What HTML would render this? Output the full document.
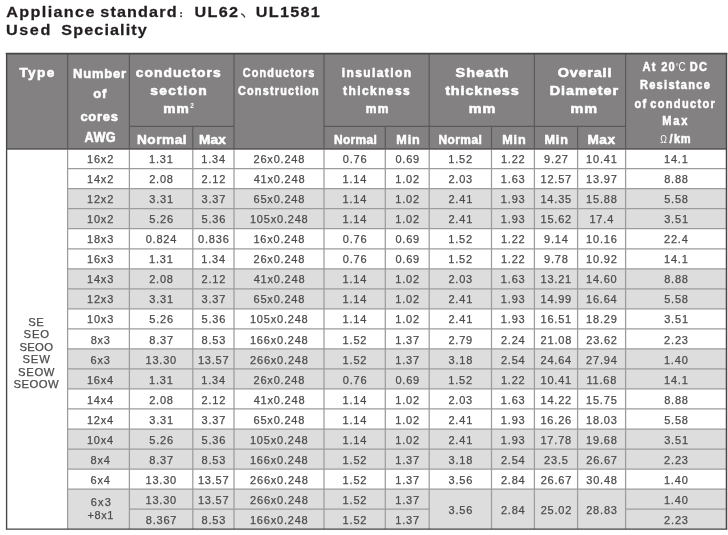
<!DOCTYPE html>
<html><head><meta charset="utf-8"><title>Appliance standard</title>
<style>html,body{margin:0;padding:0;background:#fff;}body{width:728px;height:535px;overflow:hidden;}svg{display:block;will-change:transform;}text{font-family:"Liberation Sans",sans-serif;white-space:pre;}.b{font-weight:bold;}</style>
</head><body>
<svg width="728" height="535" viewBox="0 0 728 535">
<rect x="0" y="0" width="728" height="535" fill="#fff"/>
<rect x="6.6" y="53.6" width="719.9" height="95.0" fill="#838182"/>
<rect x="67.6" y="188.66" width="658.9" height="40.06" fill="#dddddd"/>
<rect x="67.6" y="268.78" width="658.9" height="40.06" fill="#dddddd"/>
<rect x="67.6" y="348.90" width="658.9" height="40.06" fill="#dddddd"/>
<rect x="67.6" y="429.02" width="658.9" height="40.06" fill="#dddddd"/>
<rect x="67.6" y="489.11" width="658.9" height="40.06" fill="#dddddd"/>
<line x1="67.60" y1="168.63" x2="726.50" y2="168.63" stroke="#9c9c9c" stroke-width="1.25"/>
<line x1="67.60" y1="188.66" x2="726.50" y2="188.66" stroke="#9c9c9c" stroke-width="1.25"/>
<line x1="67.60" y1="208.69" x2="726.50" y2="208.69" stroke="#9c9c9c" stroke-width="1.25"/>
<line x1="67.60" y1="228.72" x2="726.50" y2="228.72" stroke="#9c9c9c" stroke-width="1.25"/>
<line x1="67.60" y1="248.75" x2="726.50" y2="248.75" stroke="#9c9c9c" stroke-width="1.25"/>
<line x1="67.60" y1="268.78" x2="726.50" y2="268.78" stroke="#9c9c9c" stroke-width="1.25"/>
<line x1="67.60" y1="288.81" x2="726.50" y2="288.81" stroke="#9c9c9c" stroke-width="1.25"/>
<line x1="67.60" y1="308.84" x2="726.50" y2="308.84" stroke="#9c9c9c" stroke-width="1.25"/>
<line x1="67.60" y1="328.87" x2="726.50" y2="328.87" stroke="#9c9c9c" stroke-width="1.25"/>
<line x1="67.60" y1="348.90" x2="726.50" y2="348.90" stroke="#9c9c9c" stroke-width="1.25"/>
<line x1="67.60" y1="368.93" x2="726.50" y2="368.93" stroke="#9c9c9c" stroke-width="1.25"/>
<line x1="67.60" y1="388.96" x2="726.50" y2="388.96" stroke="#9c9c9c" stroke-width="1.25"/>
<line x1="67.60" y1="408.99" x2="726.50" y2="408.99" stroke="#9c9c9c" stroke-width="1.25"/>
<line x1="67.60" y1="429.02" x2="726.50" y2="429.02" stroke="#9c9c9c" stroke-width="1.25"/>
<line x1="67.60" y1="449.05" x2="726.50" y2="449.05" stroke="#9c9c9c" stroke-width="1.25"/>
<line x1="67.60" y1="469.08" x2="726.50" y2="469.08" stroke="#9c9c9c" stroke-width="1.25"/>
<line x1="67.60" y1="489.11" x2="726.50" y2="489.11" stroke="#9c9c9c" stroke-width="1.25"/>
<line x1="129.40" y1="509.14" x2="429.20" y2="509.14" stroke="#9c9c9c" stroke-width="1.25"/>
<line x1="625.60" y1="509.14" x2="726.50" y2="509.14" stroke="#9c9c9c" stroke-width="1.25"/>
<line x1="67.60" y1="148.60" x2="67.60" y2="529.17" stroke="#9c9c9c" stroke-width="1.25"/>
<line x1="129.40" y1="148.60" x2="129.40" y2="529.17" stroke="#9c9c9c" stroke-width="1.25"/>
<line x1="192.80" y1="148.60" x2="192.80" y2="529.17" stroke="#9c9c9c" stroke-width="1.25"/>
<line x1="234.00" y1="148.60" x2="234.00" y2="529.17" stroke="#9c9c9c" stroke-width="1.25"/>
<line x1="324.00" y1="148.60" x2="324.00" y2="529.17" stroke="#9c9c9c" stroke-width="1.25"/>
<line x1="385.30" y1="148.60" x2="385.30" y2="529.17" stroke="#9c9c9c" stroke-width="1.25"/>
<line x1="429.20" y1="148.60" x2="429.20" y2="529.17" stroke="#9c9c9c" stroke-width="1.25"/>
<line x1="491.50" y1="148.60" x2="491.50" y2="529.17" stroke="#9c9c9c" stroke-width="1.25"/>
<line x1="534.40" y1="148.60" x2="534.40" y2="529.17" stroke="#9c9c9c" stroke-width="1.25"/>
<line x1="577.60" y1="148.60" x2="577.60" y2="529.17" stroke="#9c9c9c" stroke-width="1.25"/>
<line x1="625.60" y1="148.60" x2="625.60" y2="529.17" stroke="#9c9c9c" stroke-width="1.25"/>
<line x1="67.60" y1="53.60" x2="67.60" y2="148.60" stroke="#5c5a5b" stroke-width="1.2"/>
<line x1="129.40" y1="53.60" x2="129.40" y2="148.60" stroke="#5c5a5b" stroke-width="1.2"/>
<line x1="234.00" y1="53.60" x2="234.00" y2="148.60" stroke="#5c5a5b" stroke-width="1.2"/>
<line x1="324.00" y1="53.60" x2="324.00" y2="148.60" stroke="#5c5a5b" stroke-width="1.2"/>
<line x1="429.20" y1="53.60" x2="429.20" y2="148.60" stroke="#5c5a5b" stroke-width="1.2"/>
<line x1="534.40" y1="53.60" x2="534.40" y2="148.60" stroke="#5c5a5b" stroke-width="1.2"/>
<line x1="625.60" y1="53.60" x2="625.60" y2="148.60" stroke="#5c5a5b" stroke-width="1.2"/>
<line x1="192.80" y1="126.40" x2="192.80" y2="148.60" stroke="#5c5a5b" stroke-width="1.2"/>
<line x1="385.30" y1="126.40" x2="385.30" y2="148.60" stroke="#5c5a5b" stroke-width="1.2"/>
<line x1="491.50" y1="126.40" x2="491.50" y2="148.60" stroke="#5c5a5b" stroke-width="1.2"/>
<line x1="577.60" y1="126.40" x2="577.60" y2="148.60" stroke="#5c5a5b" stroke-width="1.2"/>
<line x1="129.40" y1="126.40" x2="234.00" y2="126.40" stroke="#5c5a5b" stroke-width="1.2"/>
<line x1="324.00" y1="126.40" x2="429.20" y2="126.40" stroke="#5c5a5b" stroke-width="1.2"/>
<line x1="429.20" y1="126.40" x2="534.40" y2="126.40" stroke="#5c5a5b" stroke-width="1.2"/>
<line x1="534.40" y1="126.40" x2="625.60" y2="126.40" stroke="#5c5a5b" stroke-width="1.2"/>
<line x1="6.60" y1="148.80" x2="726.50" y2="148.80" stroke="#5e5c5d" stroke-width="1.7"/>
<line x1="5.75" y1="53.60" x2="727.35" y2="53.60" stroke="#474546" stroke-width="1.7"/>
<line x1="5.90" y1="529.17" x2="727.20" y2="529.17" stroke="#474546" stroke-width="1.4"/>
<line x1="6.60" y1="53.60" x2="6.60" y2="529.17" stroke="#474546" stroke-width="1.35"/>
<line x1="726.50" y1="53.60" x2="726.50" y2="529.17" stroke="#474546" stroke-width="1.5"/>
<text class="b" transform="translate(6.33,16.90) scale(1.06,1)" font-size="15.3" letter-spacing="1.260" fill="#231f20" stroke="#231f20" stroke-width="0.25" stroke-linejoin="round">Appliance</text>
<text class="b" transform="translate(100.26,16.90) scale(1.06,1)" font-size="15.3" letter-spacing="1.061" fill="#231f20" stroke="#231f20" stroke-width="0.25" stroke-linejoin="round">standard</text>
<circle cx="181.1" cy="13.0" r="0.95" fill="#3a3637"/><circle cx="181.1" cy="16.3" r="0.95" fill="#3a3637"/>
<text class="b" transform="translate(194.56,16.90) scale(1.06,1)" font-size="15.3" letter-spacing="1.228" fill="#231f20" stroke="#231f20" stroke-width="0.25" stroke-linejoin="round">UL62</text>
<path d="M241.6 13.9 Q243.8 15 244.7 17.1" stroke="#3a3637" stroke-width="1.25" stroke-linecap="round" fill="none"/>
<text class="b" transform="translate(255.66,16.90) scale(1.06,1)" font-size="15.3" letter-spacing="1.237" fill="#231f20" stroke="#231f20" stroke-width="0.25" stroke-linejoin="round">UL1581</text>
<text class="b" transform="translate(6.06,35.20) scale(1.06,1)" font-size="15.3" letter-spacing="1.449" fill="#231f20" stroke="#231f20" stroke-width="0.25" stroke-linejoin="round">Used</text>
<text class="b" transform="translate(61.25,35.20) scale(1.06,1)" font-size="15.3" letter-spacing="1.038" fill="#231f20" stroke="#231f20" stroke-width="0.25" stroke-linejoin="round">Speciality</text>
<text class="b" transform="translate(19.43,76.80) scale(1.08,1)" font-size="12.6" letter-spacing="1.265" fill="#fff" stroke="#fff" stroke-width="0.55" stroke-linejoin="round">Type</text>
<text class="b" x="73.00" y="78.00" font-size="13.0" letter-spacing="0.797" fill="#fff" stroke="#fff" stroke-width="0.55" stroke-linejoin="round">Number</text>
<text class="b" x="93.20" y="98.40" font-size="13.0" letter-spacing="0.797" fill="#fff" stroke="#fff" stroke-width="0.55" stroke-linejoin="round">of</text>
<text class="b" x="80.45" y="121.00" font-size="13.0" letter-spacing="0.703" fill="#fff" stroke="#fff" stroke-width="0.55" stroke-linejoin="round">cores</text>
<text class="b" transform="translate(84.54,142.00) scale(0.92,1)" font-size="13.8" letter-spacing="0.485" fill="#fff" stroke="#fff" stroke-width="0.55" stroke-linejoin="round">AWG</text>
<text class="b" transform="translate(135.66,76.60) scale(1.15,1)" font-size="12.0" letter-spacing="0.969" fill="#fff" stroke="#fff" stroke-width="0.55" stroke-linejoin="round">conductors</text>
<text class="b" transform="translate(150.23,94.60) scale(1.15,1)" font-size="12.0" letter-spacing="1.200" fill="#fff" stroke="#fff" stroke-width="0.55" stroke-linejoin="round">section</text>
<text class="b" transform="translate(163.14,113.20) scale(1.15,1)" font-size="12.0" letter-spacing="0.969" fill="#fff" stroke="#fff" stroke-width="0.55" stroke-linejoin="round">mm</text>
<text class="b" x="190.3" y="108" font-size="6.5" fill="#fff">2</text>
<text class="b" transform="translate(136.98,143.90) scale(1.08,1)" font-size="12.6" letter-spacing="0.518" fill="#fff" stroke="#fff" stroke-width="0.55" stroke-linejoin="round">Normal</text>
<text class="b" transform="translate(198.88,143.90) scale(1.08,1)" font-size="12.6" letter-spacing="0.213" fill="#fff" stroke="#fff" stroke-width="0.55" stroke-linejoin="round">Max</text>
<text class="b" transform="translate(242.70,76.60) scale(0.85,1)" font-size="12.8" letter-spacing="1.394" fill="#fff" stroke="#fff" stroke-width="0.55" stroke-linejoin="round">Conductors</text>
<text class="b" transform="translate(238.00,95.00) scale(0.85,1)" font-size="12.8" letter-spacing="1.406" fill="#fff" stroke="#fff" stroke-width="0.55" stroke-linejoin="round">Construction</text>
<text class="b" x="341.63" y="76.60" font-size="12.0" letter-spacing="1.427" fill="#fff" stroke="#fff" stroke-width="0.55" stroke-linejoin="round">insulation</text>
<text class="b" x="343.12" y="94.60" font-size="12.0" letter-spacing="1.404" fill="#fff" stroke="#fff" stroke-width="0.55" stroke-linejoin="round">thickness</text>
<text class="b" x="365.75" y="113.20" font-size="12.0" letter-spacing="1.404" fill="#fff" stroke="#fff" stroke-width="0.55" stroke-linejoin="round">mm</text>
<text class="b" transform="translate(334.05,143.90) scale(0.95,1)" font-size="12.6" letter-spacing="0.313" fill="#fff" stroke="#fff" stroke-width="0.55" stroke-linejoin="round">Normal</text>
<text class="b" x="396.32" y="143.90" font-size="12.6" letter-spacing="0.892" fill="#fff" stroke="#fff" stroke-width="0.55" stroke-linejoin="round">Min</text>
<text class="b" transform="translate(455.60,76.60) scale(1.2,1)" font-size="12.0" letter-spacing="0.825" fill="#fff" stroke="#fff" stroke-width="0.55" stroke-linejoin="round">Sheath</text>
<text class="b" transform="translate(445.15,94.60) scale(1.2,1)" font-size="12.0" letter-spacing="0.748" fill="#fff" stroke="#fff" stroke-width="0.55" stroke-linejoin="round">thickness</text>
<text class="b" transform="translate(468.87,113.20) scale(1.2,1)" font-size="12.0" letter-spacing="0.748" fill="#fff" stroke="#fff" stroke-width="0.55" stroke-linejoin="round">mm</text>
<text class="b" transform="translate(438.45,143.90) scale(0.95,1)" font-size="12.6" letter-spacing="0.460" fill="#fff" stroke="#fff" stroke-width="0.55" stroke-linejoin="round">Normal</text>
<text class="b" x="502.22" y="143.90" font-size="12.6" letter-spacing="0.892" fill="#fff" stroke="#fff" stroke-width="0.55" stroke-linejoin="round">Min</text>
<text class="b" transform="translate(557.65,76.60) scale(1.2,1)" font-size="12.0" letter-spacing="0.682" fill="#fff" stroke="#fff" stroke-width="0.55" stroke-linejoin="round">Overall</text>
<text class="b" transform="translate(549.66,94.60) scale(1.2,1)" font-size="12.0" letter-spacing="0.821" fill="#fff" stroke="#fff" stroke-width="0.55" stroke-linejoin="round">Diameter</text>
<text class="b" transform="translate(570.47,113.20) scale(1.2,1)" font-size="12.0" letter-spacing="0.821" fill="#fff" stroke="#fff" stroke-width="0.55" stroke-linejoin="round">mm</text>
<text class="b" x="544.42" y="143.90" font-size="12.6" letter-spacing="0.942" fill="#fff" stroke="#fff" stroke-width="0.55" stroke-linejoin="round">Min</text>
<text class="b" transform="translate(587.38,143.90) scale(1.08,1)" font-size="12.6" letter-spacing="0.583" fill="#fff" stroke="#fff" stroke-width="0.55" stroke-linejoin="round">Max</text>
<text class="b" transform="translate(639.89,89.40) scale(0.85,1)" font-size="13.0" letter-spacing="1.529" fill="#fff" stroke="#fff" stroke-width="0.55" stroke-linejoin="round">Resistance</text>
<text class="b" transform="translate(642.50,71.00) scale(0.85,1)" font-size="13.0" letter-spacing="1.529" fill="#fff" stroke="#fff" stroke-width="0.55" stroke-linejoin="round">At</text>
<text class="b" transform="translate(661.15,71.00) scale(0.85,1)" font-size="13.0" letter-spacing="1.529" fill="#fff" stroke="#fff" stroke-width="0.55" stroke-linejoin="round">20</text>
<text x="675.6" y="68.6" font-size="8" fill="#fff">°</text>
<text transform="translate(678.6,71.0) scale(0.8,1)" font-size="12.6" fill="#fff">C</text>
<text class="b" transform="translate(689.80,71.00) scale(0.85,1)" font-size="13.0" letter-spacing="1.529" fill="#fff" stroke="#fff" stroke-width="0.55" stroke-linejoin="round">DC</text>
<text class="b" transform="translate(634.51,107.50) scale(0.85,1)" font-size="13.0" letter-spacing="1.529" fill="#fff" stroke="#fff" stroke-width="0.55" stroke-linejoin="round">of</text>
<text class="b" transform="translate(650.29,107.50) scale(0.85,1)" font-size="13.0" letter-spacing="1.545" fill="#fff" stroke="#fff" stroke-width="0.55" stroke-linejoin="round">conductor</text>
<text class="b" transform="translate(662.29,125.30) scale(0.85,1)" font-size="13.0" letter-spacing="2.158" fill="#fff" stroke="#fff" stroke-width="0.55" stroke-linejoin="round">Max</text>
<text transform="translate(660.3,143.2) scale(0.85,1)" font-size="10.5" fill="#fff">Ω</text>
<text class="b" transform="translate(669.47,143.20) scale(0.85,1)" font-size="13.0" letter-spacing="0.000" fill="#fff" stroke="#fff" stroke-width="0.55" stroke-linejoin="round">/</text>
<text class="b" transform="translate(674.03,143.20) scale(0.85,1)" font-size="13.0" letter-spacing="0.800" fill="#fff" stroke="#fff" stroke-width="0.55" stroke-linejoin="round">km</text>
<text x="28.24" y="325.70" font-size="11.3" letter-spacing="0.600" fill="#4c4c4c" stroke="#4c4c4c" stroke-width="0.25" stroke-linejoin="round">SE</text>
<text x="23.62" y="338.10" font-size="11.3" letter-spacing="0.812" fill="#4c4c4c" stroke="#4c4c4c" stroke-width="0.25" stroke-linejoin="round">SEO</text>
<text x="19.42" y="350.70" font-size="11.3" letter-spacing="0.313" fill="#4c4c4c" stroke="#4c4c4c" stroke-width="0.25" stroke-linejoin="round">SEOO</text>
<text x="22.62" y="363.00" font-size="11.3" letter-spacing="0.726" fill="#4c4c4c" stroke="#4c4c4c" stroke-width="0.25" stroke-linejoin="round">SEW</text>
<text x="18.12" y="375.60" font-size="11.3" letter-spacing="0.622" fill="#4c4c4c" stroke="#4c4c4c" stroke-width="0.25" stroke-linejoin="round">SEOW</text>
<text x="13.52" y="388.20" font-size="11.3" letter-spacing="0.470" fill="#4c4c4c" stroke="#4c4c4c" stroke-width="0.25" stroke-linejoin="round">SEOOW</text>
<text x="87.04" y="163.25" font-size="11" letter-spacing="0.800" fill="#4c4c4c" stroke="#4c4c4c" stroke-width="0.25" stroke-linejoin="round">16x2</text>
<text x="149.05" y="163.25" font-size="11" letter-spacing="0.800" fill="#4c4c4c" stroke="#4c4c4c" stroke-width="0.25" stroke-linejoin="round">1.31</text>
<text x="201.24" y="163.25" font-size="11" letter-spacing="0.800" fill="#4c4c4c" stroke="#4c4c4c" stroke-width="0.25" stroke-linejoin="round">1.34</text>
<text x="253.54" y="163.25" font-size="11" letter-spacing="0.800" fill="#4c4c4c" stroke="#4c4c4c" stroke-width="0.25" stroke-linejoin="round">26x0.248</text>
<text x="342.77" y="163.25" font-size="11" letter-spacing="0.800" fill="#4c4c4c" stroke="#4c4c4c" stroke-width="0.25" stroke-linejoin="round">0.76</text>
<text x="395.38" y="163.25" font-size="11" letter-spacing="0.800" fill="#4c4c4c" stroke="#4c4c4c" stroke-width="0.25" stroke-linejoin="round">0.69</text>
<text x="448.32" y="163.25" font-size="11" letter-spacing="0.800" fill="#4c4c4c" stroke="#4c4c4c" stroke-width="0.25" stroke-linejoin="round">1.52</text>
<text x="500.92" y="163.25" font-size="11" letter-spacing="0.800" fill="#4c4c4c" stroke="#4c4c4c" stroke-width="0.25" stroke-linejoin="round">1.22</text>
<text x="544.12" y="163.25" font-size="11" letter-spacing="0.800" fill="#4c4c4c" stroke="#4c4c4c" stroke-width="0.25" stroke-linejoin="round">9.27</text>
<text x="586.08" y="163.25" font-size="11" letter-spacing="0.800" fill="#4c4c4c" stroke="#4c4c4c" stroke-width="0.25" stroke-linejoin="round">10.41</text>
<text x="664.00" y="163.25" font-size="11" letter-spacing="0.800" fill="#4c4c4c" stroke="#4c4c4c" stroke-width="0.25" stroke-linejoin="round">14.1</text>
<text x="87.04" y="183.28" font-size="11" letter-spacing="0.800" fill="#4c4c4c" stroke="#4c4c4c" stroke-width="0.25" stroke-linejoin="round">14x2</text>
<text x="149.16" y="183.28" font-size="11" letter-spacing="0.800" fill="#4c4c4c" stroke="#4c4c4c" stroke-width="0.25" stroke-linejoin="round">2.08</text>
<text x="201.50" y="183.28" font-size="11" letter-spacing="0.800" fill="#4c4c4c" stroke="#4c4c4c" stroke-width="0.25" stroke-linejoin="round">2.12</text>
<text x="253.69" y="183.28" font-size="11" letter-spacing="0.800" fill="#4c4c4c" stroke="#4c4c4c" stroke-width="0.25" stroke-linejoin="round">41x0.248</text>
<text x="342.49" y="183.28" font-size="11" letter-spacing="0.800" fill="#4c4c4c" stroke="#4c4c4c" stroke-width="0.25" stroke-linejoin="round">1.14</text>
<text x="395.22" y="183.28" font-size="11" letter-spacing="0.800" fill="#4c4c4c" stroke="#4c4c4c" stroke-width="0.25" stroke-linejoin="round">1.02</text>
<text x="448.41" y="183.28" font-size="11" letter-spacing="0.800" fill="#4c4c4c" stroke="#4c4c4c" stroke-width="0.25" stroke-linejoin="round">2.03</text>
<text x="500.87" y="183.28" font-size="11" letter-spacing="0.800" fill="#4c4c4c" stroke="#4c4c4c" stroke-width="0.25" stroke-linejoin="round">1.63</text>
<text x="540.50" y="183.28" font-size="11" letter-spacing="0.800" fill="#4c4c4c" stroke="#4c4c4c" stroke-width="0.25" stroke-linejoin="round">12.57</text>
<text x="586.10" y="183.28" font-size="11" letter-spacing="0.800" fill="#4c4c4c" stroke="#4c4c4c" stroke-width="0.25" stroke-linejoin="round">13.97</text>
<text x="664.15" y="183.28" font-size="11" letter-spacing="0.800" fill="#4c4c4c" stroke="#4c4c4c" stroke-width="0.25" stroke-linejoin="round">8.88</text>
<text x="87.04" y="203.31" font-size="11" letter-spacing="0.800" fill="#4c4c4c" stroke="#4c4c4c" stroke-width="0.25" stroke-linejoin="round">12x2</text>
<text x="149.26" y="203.31" font-size="11" letter-spacing="0.800" fill="#4c4c4c" stroke="#4c4c4c" stroke-width="0.25" stroke-linejoin="round">3.31</text>
<text x="201.57" y="203.31" font-size="11" letter-spacing="0.800" fill="#4c4c4c" stroke="#4c4c4c" stroke-width="0.25" stroke-linejoin="round">3.37</text>
<text x="253.54" y="203.31" font-size="11" letter-spacing="0.800" fill="#4c4c4c" stroke="#4c4c4c" stroke-width="0.25" stroke-linejoin="round">65x0.248</text>
<text x="342.49" y="203.31" font-size="11" letter-spacing="0.800" fill="#4c4c4c" stroke="#4c4c4c" stroke-width="0.25" stroke-linejoin="round">1.14</text>
<text x="395.22" y="203.31" font-size="11" letter-spacing="0.800" fill="#4c4c4c" stroke="#4c4c4c" stroke-width="0.25" stroke-linejoin="round">1.02</text>
<text x="448.44" y="203.31" font-size="11" letter-spacing="0.800" fill="#4c4c4c" stroke="#4c4c4c" stroke-width="0.25" stroke-linejoin="round">2.41</text>
<text x="500.87" y="203.31" font-size="11" letter-spacing="0.800" fill="#4c4c4c" stroke="#4c4c4c" stroke-width="0.25" stroke-linejoin="round">1.93</text>
<text x="540.44" y="203.31" font-size="11" letter-spacing="0.800" fill="#4c4c4c" stroke="#4c4c4c" stroke-width="0.25" stroke-linejoin="round">14.35</text>
<text x="586.06" y="203.31" font-size="11" letter-spacing="0.800" fill="#4c4c4c" stroke="#4c4c4c" stroke-width="0.25" stroke-linejoin="round">15.88</text>
<text x="664.17" y="203.31" font-size="11" letter-spacing="0.800" fill="#4c4c4c" stroke="#4c4c4c" stroke-width="0.25" stroke-linejoin="round">5.58</text>
<text x="87.04" y="223.34" font-size="11" letter-spacing="0.800" fill="#4c4c4c" stroke="#4c4c4c" stroke-width="0.25" stroke-linejoin="round">10x2</text>
<text x="149.22" y="223.34" font-size="11" letter-spacing="0.800" fill="#4c4c4c" stroke="#4c4c4c" stroke-width="0.25" stroke-linejoin="round">5.26</text>
<text x="201.52" y="223.34" font-size="11" letter-spacing="0.800" fill="#4c4c4c" stroke="#4c4c4c" stroke-width="0.25" stroke-linejoin="round">5.36</text>
<text x="249.94" y="223.34" font-size="11" letter-spacing="0.800" fill="#4c4c4c" stroke="#4c4c4c" stroke-width="0.25" stroke-linejoin="round">105x0.248</text>
<text x="342.49" y="223.34" font-size="11" letter-spacing="0.800" fill="#4c4c4c" stroke="#4c4c4c" stroke-width="0.25" stroke-linejoin="round">1.14</text>
<text x="395.22" y="223.34" font-size="11" letter-spacing="0.800" fill="#4c4c4c" stroke="#4c4c4c" stroke-width="0.25" stroke-linejoin="round">1.02</text>
<text x="448.44" y="223.34" font-size="11" letter-spacing="0.800" fill="#4c4c4c" stroke="#4c4c4c" stroke-width="0.25" stroke-linejoin="round">2.41</text>
<text x="500.87" y="223.34" font-size="11" letter-spacing="0.800" fill="#4c4c4c" stroke="#4c4c4c" stroke-width="0.25" stroke-linejoin="round">1.93</text>
<text x="540.50" y="223.34" font-size="11" letter-spacing="0.800" fill="#4c4c4c" stroke="#4c4c4c" stroke-width="0.25" stroke-linejoin="round">15.62</text>
<text x="589.44" y="223.34" font-size="11" letter-spacing="0.800" fill="#4c4c4c" stroke="#4c4c4c" stroke-width="0.25" stroke-linejoin="round">17.4</text>
<text x="664.21" y="223.34" font-size="11" letter-spacing="0.800" fill="#4c4c4c" stroke="#4c4c4c" stroke-width="0.25" stroke-linejoin="round">3.51</text>
<text x="87.00" y="243.37" font-size="11" letter-spacing="0.800" fill="#4c4c4c" stroke="#4c4c4c" stroke-width="0.25" stroke-linejoin="round">18x3</text>
<text x="145.67" y="243.37" font-size="11" letter-spacing="0.800" fill="#4c4c4c" stroke="#4c4c4c" stroke-width="0.25" stroke-linejoin="round">0.824</text>
<text x="198.05" y="243.37" font-size="11" letter-spacing="0.800" fill="#4c4c4c" stroke="#4c4c4c" stroke-width="0.25" stroke-linejoin="round">0.836</text>
<text x="253.40" y="243.37" font-size="11" letter-spacing="0.800" fill="#4c4c4c" stroke="#4c4c4c" stroke-width="0.25" stroke-linejoin="round">16x0.248</text>
<text x="342.77" y="243.37" font-size="11" letter-spacing="0.800" fill="#4c4c4c" stroke="#4c4c4c" stroke-width="0.25" stroke-linejoin="round">0.76</text>
<text x="395.38" y="243.37" font-size="11" letter-spacing="0.800" fill="#4c4c4c" stroke="#4c4c4c" stroke-width="0.25" stroke-linejoin="round">0.69</text>
<text x="448.32" y="243.37" font-size="11" letter-spacing="0.800" fill="#4c4c4c" stroke="#4c4c4c" stroke-width="0.25" stroke-linejoin="round">1.52</text>
<text x="500.92" y="243.37" font-size="11" letter-spacing="0.800" fill="#4c4c4c" stroke="#4c4c4c" stroke-width="0.25" stroke-linejoin="round">1.22</text>
<text x="543.99" y="243.37" font-size="11" letter-spacing="0.800" fill="#4c4c4c" stroke="#4c4c4c" stroke-width="0.25" stroke-linejoin="round">9.14</text>
<text x="586.06" y="243.37" font-size="11" letter-spacing="0.800" fill="#4c4c4c" stroke="#4c4c4c" stroke-width="0.25" stroke-linejoin="round">10.16</text>
<text x="664.03" y="243.37" font-size="11" letter-spacing="0.800" fill="#4c4c4c" stroke="#4c4c4c" stroke-width="0.25" stroke-linejoin="round">22.4</text>
<text x="87.00" y="263.40" font-size="11" letter-spacing="0.800" fill="#4c4c4c" stroke="#4c4c4c" stroke-width="0.25" stroke-linejoin="round">16x3</text>
<text x="149.05" y="263.40" font-size="11" letter-spacing="0.800" fill="#4c4c4c" stroke="#4c4c4c" stroke-width="0.25" stroke-linejoin="round">1.31</text>
<text x="201.24" y="263.40" font-size="11" letter-spacing="0.800" fill="#4c4c4c" stroke="#4c4c4c" stroke-width="0.25" stroke-linejoin="round">1.34</text>
<text x="253.54" y="263.40" font-size="11" letter-spacing="0.800" fill="#4c4c4c" stroke="#4c4c4c" stroke-width="0.25" stroke-linejoin="round">26x0.248</text>
<text x="342.77" y="263.40" font-size="11" letter-spacing="0.800" fill="#4c4c4c" stroke="#4c4c4c" stroke-width="0.25" stroke-linejoin="round">0.76</text>
<text x="395.38" y="263.40" font-size="11" letter-spacing="0.800" fill="#4c4c4c" stroke="#4c4c4c" stroke-width="0.25" stroke-linejoin="round">0.69</text>
<text x="448.32" y="263.40" font-size="11" letter-spacing="0.800" fill="#4c4c4c" stroke="#4c4c4c" stroke-width="0.25" stroke-linejoin="round">1.52</text>
<text x="500.92" y="263.40" font-size="11" letter-spacing="0.800" fill="#4c4c4c" stroke="#4c4c4c" stroke-width="0.25" stroke-linejoin="round">1.22</text>
<text x="544.07" y="263.40" font-size="11" letter-spacing="0.800" fill="#4c4c4c" stroke="#4c4c4c" stroke-width="0.25" stroke-linejoin="round">9.78</text>
<text x="586.10" y="263.40" font-size="11" letter-spacing="0.800" fill="#4c4c4c" stroke="#4c4c4c" stroke-width="0.25" stroke-linejoin="round">10.92</text>
<text x="664.00" y="263.40" font-size="11" letter-spacing="0.800" fill="#4c4c4c" stroke="#4c4c4c" stroke-width="0.25" stroke-linejoin="round">14.1</text>
<text x="87.00" y="283.43" font-size="11" letter-spacing="0.800" fill="#4c4c4c" stroke="#4c4c4c" stroke-width="0.25" stroke-linejoin="round">14x3</text>
<text x="149.16" y="283.43" font-size="11" letter-spacing="0.800" fill="#4c4c4c" stroke="#4c4c4c" stroke-width="0.25" stroke-linejoin="round">2.08</text>
<text x="201.50" y="283.43" font-size="11" letter-spacing="0.800" fill="#4c4c4c" stroke="#4c4c4c" stroke-width="0.25" stroke-linejoin="round">2.12</text>
<text x="253.69" y="283.43" font-size="11" letter-spacing="0.800" fill="#4c4c4c" stroke="#4c4c4c" stroke-width="0.25" stroke-linejoin="round">41x0.248</text>
<text x="342.49" y="283.43" font-size="11" letter-spacing="0.800" fill="#4c4c4c" stroke="#4c4c4c" stroke-width="0.25" stroke-linejoin="round">1.14</text>
<text x="395.22" y="283.43" font-size="11" letter-spacing="0.800" fill="#4c4c4c" stroke="#4c4c4c" stroke-width="0.25" stroke-linejoin="round">1.02</text>
<text x="448.41" y="283.43" font-size="11" letter-spacing="0.800" fill="#4c4c4c" stroke="#4c4c4c" stroke-width="0.25" stroke-linejoin="round">2.03</text>
<text x="500.87" y="283.43" font-size="11" letter-spacing="0.800" fill="#4c4c4c" stroke="#4c4c4c" stroke-width="0.25" stroke-linejoin="round">1.63</text>
<text x="540.48" y="283.43" font-size="11" letter-spacing="0.800" fill="#4c4c4c" stroke="#4c4c4c" stroke-width="0.25" stroke-linejoin="round">13.21</text>
<text x="586.03" y="283.43" font-size="11" letter-spacing="0.800" fill="#4c4c4c" stroke="#4c4c4c" stroke-width="0.25" stroke-linejoin="round">14.60</text>
<text x="664.15" y="283.43" font-size="11" letter-spacing="0.800" fill="#4c4c4c" stroke="#4c4c4c" stroke-width="0.25" stroke-linejoin="round">8.88</text>
<text x="87.00" y="303.46" font-size="11" letter-spacing="0.800" fill="#4c4c4c" stroke="#4c4c4c" stroke-width="0.25" stroke-linejoin="round">12x3</text>
<text x="149.26" y="303.46" font-size="11" letter-spacing="0.800" fill="#4c4c4c" stroke="#4c4c4c" stroke-width="0.25" stroke-linejoin="round">3.31</text>
<text x="201.57" y="303.46" font-size="11" letter-spacing="0.800" fill="#4c4c4c" stroke="#4c4c4c" stroke-width="0.25" stroke-linejoin="round">3.37</text>
<text x="253.54" y="303.46" font-size="11" letter-spacing="0.800" fill="#4c4c4c" stroke="#4c4c4c" stroke-width="0.25" stroke-linejoin="round">65x0.248</text>
<text x="342.49" y="303.46" font-size="11" letter-spacing="0.800" fill="#4c4c4c" stroke="#4c4c4c" stroke-width="0.25" stroke-linejoin="round">1.14</text>
<text x="395.22" y="303.46" font-size="11" letter-spacing="0.800" fill="#4c4c4c" stroke="#4c4c4c" stroke-width="0.25" stroke-linejoin="round">1.02</text>
<text x="448.44" y="303.46" font-size="11" letter-spacing="0.800" fill="#4c4c4c" stroke="#4c4c4c" stroke-width="0.25" stroke-linejoin="round">2.41</text>
<text x="500.87" y="303.46" font-size="11" letter-spacing="0.800" fill="#4c4c4c" stroke="#4c4c4c" stroke-width="0.25" stroke-linejoin="round">1.93</text>
<text x="540.47" y="303.46" font-size="11" letter-spacing="0.800" fill="#4c4c4c" stroke="#4c4c4c" stroke-width="0.25" stroke-linejoin="round">14.99</text>
<text x="585.98" y="303.46" font-size="11" letter-spacing="0.800" fill="#4c4c4c" stroke="#4c4c4c" stroke-width="0.25" stroke-linejoin="round">16.64</text>
<text x="664.17" y="303.46" font-size="11" letter-spacing="0.800" fill="#4c4c4c" stroke="#4c4c4c" stroke-width="0.25" stroke-linejoin="round">5.58</text>
<text x="87.00" y="323.49" font-size="11" letter-spacing="0.800" fill="#4c4c4c" stroke="#4c4c4c" stroke-width="0.25" stroke-linejoin="round">10x3</text>
<text x="149.22" y="323.49" font-size="11" letter-spacing="0.800" fill="#4c4c4c" stroke="#4c4c4c" stroke-width="0.25" stroke-linejoin="round">5.26</text>
<text x="201.52" y="323.49" font-size="11" letter-spacing="0.800" fill="#4c4c4c" stroke="#4c4c4c" stroke-width="0.25" stroke-linejoin="round">5.36</text>
<text x="249.94" y="323.49" font-size="11" letter-spacing="0.800" fill="#4c4c4c" stroke="#4c4c4c" stroke-width="0.25" stroke-linejoin="round">105x0.248</text>
<text x="342.49" y="323.49" font-size="11" letter-spacing="0.800" fill="#4c4c4c" stroke="#4c4c4c" stroke-width="0.25" stroke-linejoin="round">1.14</text>
<text x="395.22" y="323.49" font-size="11" letter-spacing="0.800" fill="#4c4c4c" stroke="#4c4c4c" stroke-width="0.25" stroke-linejoin="round">1.02</text>
<text x="448.44" y="323.49" font-size="11" letter-spacing="0.800" fill="#4c4c4c" stroke="#4c4c4c" stroke-width="0.25" stroke-linejoin="round">2.41</text>
<text x="500.87" y="323.49" font-size="11" letter-spacing="0.800" fill="#4c4c4c" stroke="#4c4c4c" stroke-width="0.25" stroke-linejoin="round">1.93</text>
<text x="540.48" y="323.49" font-size="11" letter-spacing="0.800" fill="#4c4c4c" stroke="#4c4c4c" stroke-width="0.25" stroke-linejoin="round">16.51</text>
<text x="586.07" y="323.49" font-size="11" letter-spacing="0.800" fill="#4c4c4c" stroke="#4c4c4c" stroke-width="0.25" stroke-linejoin="round">18.29</text>
<text x="664.21" y="323.49" font-size="11" letter-spacing="0.800" fill="#4c4c4c" stroke="#4c4c4c" stroke-width="0.25" stroke-linejoin="round">3.51</text>
<text x="90.64" y="343.52" font-size="11" letter-spacing="0.800" fill="#4c4c4c" stroke="#4c4c4c" stroke-width="0.25" stroke-linejoin="round">8x3</text>
<text x="149.24" y="343.52" font-size="11" letter-spacing="0.800" fill="#4c4c4c" stroke="#4c4c4c" stroke-width="0.25" stroke-linejoin="round">8.37</text>
<text x="201.50" y="343.52" font-size="11" letter-spacing="0.800" fill="#4c4c4c" stroke="#4c4c4c" stroke-width="0.25" stroke-linejoin="round">8.53</text>
<text x="249.94" y="343.52" font-size="11" letter-spacing="0.800" fill="#4c4c4c" stroke="#4c4c4c" stroke-width="0.25" stroke-linejoin="round">166x0.248</text>
<text x="342.62" y="343.52" font-size="11" letter-spacing="0.800" fill="#4c4c4c" stroke="#4c4c4c" stroke-width="0.25" stroke-linejoin="round">1.52</text>
<text x="395.22" y="343.52" font-size="11" letter-spacing="0.800" fill="#4c4c4c" stroke="#4c4c4c" stroke-width="0.25" stroke-linejoin="round">1.37</text>
<text x="448.43" y="343.52" font-size="11" letter-spacing="0.800" fill="#4c4c4c" stroke="#4c4c4c" stroke-width="0.25" stroke-linejoin="round">2.79</text>
<text x="500.93" y="343.52" font-size="11" letter-spacing="0.800" fill="#4c4c4c" stroke="#4c4c4c" stroke-width="0.25" stroke-linejoin="round">2.24</text>
<text x="540.60" y="343.52" font-size="11" letter-spacing="0.800" fill="#4c4c4c" stroke="#4c4c4c" stroke-width="0.25" stroke-linejoin="round">21.08</text>
<text x="586.24" y="343.52" font-size="11" letter-spacing="0.800" fill="#4c4c4c" stroke="#4c4c4c" stroke-width="0.25" stroke-linejoin="round">23.62</text>
<text x="664.11" y="343.52" font-size="11" letter-spacing="0.800" fill="#4c4c4c" stroke="#4c4c4c" stroke-width="0.25" stroke-linejoin="round">2.23</text>
<text x="90.60" y="363.55" font-size="11" letter-spacing="0.800" fill="#4c4c4c" stroke="#4c4c4c" stroke-width="0.25" stroke-linejoin="round">6x3</text>
<text x="145.53" y="363.55" font-size="11" letter-spacing="0.800" fill="#4c4c4c" stroke="#4c4c4c" stroke-width="0.25" stroke-linejoin="round">13.30</text>
<text x="197.90" y="363.55" font-size="11" letter-spacing="0.800" fill="#4c4c4c" stroke="#4c4c4c" stroke-width="0.25" stroke-linejoin="round">13.57</text>
<text x="250.07" y="363.55" font-size="11" letter-spacing="0.800" fill="#4c4c4c" stroke="#4c4c4c" stroke-width="0.25" stroke-linejoin="round">266x0.248</text>
<text x="342.62" y="363.55" font-size="11" letter-spacing="0.800" fill="#4c4c4c" stroke="#4c4c4c" stroke-width="0.25" stroke-linejoin="round">1.52</text>
<text x="395.22" y="363.55" font-size="11" letter-spacing="0.800" fill="#4c4c4c" stroke="#4c4c4c" stroke-width="0.25" stroke-linejoin="round">1.37</text>
<text x="448.48" y="363.55" font-size="11" letter-spacing="0.800" fill="#4c4c4c" stroke="#4c4c4c" stroke-width="0.25" stroke-linejoin="round">3.18</text>
<text x="500.93" y="363.55" font-size="11" letter-spacing="0.800" fill="#4c4c4c" stroke="#4c4c4c" stroke-width="0.25" stroke-linejoin="round">2.54</text>
<text x="540.51" y="363.55" font-size="11" letter-spacing="0.800" fill="#4c4c4c" stroke="#4c4c4c" stroke-width="0.25" stroke-linejoin="round">24.64</text>
<text x="586.11" y="363.55" font-size="11" letter-spacing="0.800" fill="#4c4c4c" stroke="#4c4c4c" stroke-width="0.25" stroke-linejoin="round">27.94</text>
<text x="663.95" y="363.55" font-size="11" letter-spacing="0.800" fill="#4c4c4c" stroke="#4c4c4c" stroke-width="0.25" stroke-linejoin="round">1.40</text>
<text x="86.92" y="383.58" font-size="11" letter-spacing="0.800" fill="#4c4c4c" stroke="#4c4c4c" stroke-width="0.25" stroke-linejoin="round">16x4</text>
<text x="149.05" y="383.58" font-size="11" letter-spacing="0.800" fill="#4c4c4c" stroke="#4c4c4c" stroke-width="0.25" stroke-linejoin="round">1.31</text>
<text x="201.24" y="383.58" font-size="11" letter-spacing="0.800" fill="#4c4c4c" stroke="#4c4c4c" stroke-width="0.25" stroke-linejoin="round">1.34</text>
<text x="253.54" y="383.58" font-size="11" letter-spacing="0.800" fill="#4c4c4c" stroke="#4c4c4c" stroke-width="0.25" stroke-linejoin="round">26x0.248</text>
<text x="342.77" y="383.58" font-size="11" letter-spacing="0.800" fill="#4c4c4c" stroke="#4c4c4c" stroke-width="0.25" stroke-linejoin="round">0.76</text>
<text x="395.38" y="383.58" font-size="11" letter-spacing="0.800" fill="#4c4c4c" stroke="#4c4c4c" stroke-width="0.25" stroke-linejoin="round">0.69</text>
<text x="448.32" y="383.58" font-size="11" letter-spacing="0.800" fill="#4c4c4c" stroke="#4c4c4c" stroke-width="0.25" stroke-linejoin="round">1.52</text>
<text x="500.92" y="383.58" font-size="11" letter-spacing="0.800" fill="#4c4c4c" stroke="#4c4c4c" stroke-width="0.25" stroke-linejoin="round">1.22</text>
<text x="540.48" y="383.58" font-size="11" letter-spacing="0.800" fill="#4c4c4c" stroke="#4c4c4c" stroke-width="0.25" stroke-linejoin="round">10.41</text>
<text x="586.47" y="383.58" font-size="11" letter-spacing="0.800" fill="#4c4c4c" stroke="#4c4c4c" stroke-width="0.25" stroke-linejoin="round">11.68</text>
<text x="664.00" y="383.58" font-size="11" letter-spacing="0.800" fill="#4c4c4c" stroke="#4c4c4c" stroke-width="0.25" stroke-linejoin="round">14.1</text>
<text x="86.92" y="403.61" font-size="11" letter-spacing="0.800" fill="#4c4c4c" stroke="#4c4c4c" stroke-width="0.25" stroke-linejoin="round">14x4</text>
<text x="149.16" y="403.61" font-size="11" letter-spacing="0.800" fill="#4c4c4c" stroke="#4c4c4c" stroke-width="0.25" stroke-linejoin="round">2.08</text>
<text x="201.50" y="403.61" font-size="11" letter-spacing="0.800" fill="#4c4c4c" stroke="#4c4c4c" stroke-width="0.25" stroke-linejoin="round">2.12</text>
<text x="253.69" y="403.61" font-size="11" letter-spacing="0.800" fill="#4c4c4c" stroke="#4c4c4c" stroke-width="0.25" stroke-linejoin="round">41x0.248</text>
<text x="342.49" y="403.61" font-size="11" letter-spacing="0.800" fill="#4c4c4c" stroke="#4c4c4c" stroke-width="0.25" stroke-linejoin="round">1.14</text>
<text x="395.22" y="403.61" font-size="11" letter-spacing="0.800" fill="#4c4c4c" stroke="#4c4c4c" stroke-width="0.25" stroke-linejoin="round">1.02</text>
<text x="448.41" y="403.61" font-size="11" letter-spacing="0.800" fill="#4c4c4c" stroke="#4c4c4c" stroke-width="0.25" stroke-linejoin="round">2.03</text>
<text x="500.87" y="403.61" font-size="11" letter-spacing="0.800" fill="#4c4c4c" stroke="#4c4c4c" stroke-width="0.25" stroke-linejoin="round">1.63</text>
<text x="540.50" y="403.61" font-size="11" letter-spacing="0.800" fill="#4c4c4c" stroke="#4c4c4c" stroke-width="0.25" stroke-linejoin="round">14.22</text>
<text x="586.04" y="403.61" font-size="11" letter-spacing="0.800" fill="#4c4c4c" stroke="#4c4c4c" stroke-width="0.25" stroke-linejoin="round">15.75</text>
<text x="664.15" y="403.61" font-size="11" letter-spacing="0.800" fill="#4c4c4c" stroke="#4c4c4c" stroke-width="0.25" stroke-linejoin="round">8.88</text>
<text x="86.92" y="423.64" font-size="11" letter-spacing="0.800" fill="#4c4c4c" stroke="#4c4c4c" stroke-width="0.25" stroke-linejoin="round">12x4</text>
<text x="149.26" y="423.64" font-size="11" letter-spacing="0.800" fill="#4c4c4c" stroke="#4c4c4c" stroke-width="0.25" stroke-linejoin="round">3.31</text>
<text x="201.57" y="423.64" font-size="11" letter-spacing="0.800" fill="#4c4c4c" stroke="#4c4c4c" stroke-width="0.25" stroke-linejoin="round">3.37</text>
<text x="253.54" y="423.64" font-size="11" letter-spacing="0.800" fill="#4c4c4c" stroke="#4c4c4c" stroke-width="0.25" stroke-linejoin="round">65x0.248</text>
<text x="342.49" y="423.64" font-size="11" letter-spacing="0.800" fill="#4c4c4c" stroke="#4c4c4c" stroke-width="0.25" stroke-linejoin="round">1.14</text>
<text x="395.22" y="423.64" font-size="11" letter-spacing="0.800" fill="#4c4c4c" stroke="#4c4c4c" stroke-width="0.25" stroke-linejoin="round">1.02</text>
<text x="448.44" y="423.64" font-size="11" letter-spacing="0.800" fill="#4c4c4c" stroke="#4c4c4c" stroke-width="0.25" stroke-linejoin="round">2.41</text>
<text x="500.87" y="423.64" font-size="11" letter-spacing="0.800" fill="#4c4c4c" stroke="#4c4c4c" stroke-width="0.25" stroke-linejoin="round">1.93</text>
<text x="540.46" y="423.64" font-size="11" letter-spacing="0.800" fill="#4c4c4c" stroke="#4c4c4c" stroke-width="0.25" stroke-linejoin="round">16.26</text>
<text x="586.06" y="423.64" font-size="11" letter-spacing="0.800" fill="#4c4c4c" stroke="#4c4c4c" stroke-width="0.25" stroke-linejoin="round">18.03</text>
<text x="664.17" y="423.64" font-size="11" letter-spacing="0.800" fill="#4c4c4c" stroke="#4c4c4c" stroke-width="0.25" stroke-linejoin="round">5.58</text>
<text x="86.92" y="443.67" font-size="11" letter-spacing="0.800" fill="#4c4c4c" stroke="#4c4c4c" stroke-width="0.25" stroke-linejoin="round">10x4</text>
<text x="149.22" y="443.67" font-size="11" letter-spacing="0.800" fill="#4c4c4c" stroke="#4c4c4c" stroke-width="0.25" stroke-linejoin="round">5.26</text>
<text x="201.52" y="443.67" font-size="11" letter-spacing="0.800" fill="#4c4c4c" stroke="#4c4c4c" stroke-width="0.25" stroke-linejoin="round">5.36</text>
<text x="249.94" y="443.67" font-size="11" letter-spacing="0.800" fill="#4c4c4c" stroke="#4c4c4c" stroke-width="0.25" stroke-linejoin="round">105x0.248</text>
<text x="342.49" y="443.67" font-size="11" letter-spacing="0.800" fill="#4c4c4c" stroke="#4c4c4c" stroke-width="0.25" stroke-linejoin="round">1.14</text>
<text x="395.22" y="443.67" font-size="11" letter-spacing="0.800" fill="#4c4c4c" stroke="#4c4c4c" stroke-width="0.25" stroke-linejoin="round">1.02</text>
<text x="448.44" y="443.67" font-size="11" letter-spacing="0.800" fill="#4c4c4c" stroke="#4c4c4c" stroke-width="0.25" stroke-linejoin="round">2.41</text>
<text x="500.87" y="443.67" font-size="11" letter-spacing="0.800" fill="#4c4c4c" stroke="#4c4c4c" stroke-width="0.25" stroke-linejoin="round">1.93</text>
<text x="540.46" y="443.67" font-size="11" letter-spacing="0.800" fill="#4c4c4c" stroke="#4c4c4c" stroke-width="0.25" stroke-linejoin="round">17.78</text>
<text x="586.06" y="443.67" font-size="11" letter-spacing="0.800" fill="#4c4c4c" stroke="#4c4c4c" stroke-width="0.25" stroke-linejoin="round">19.68</text>
<text x="664.21" y="443.67" font-size="11" letter-spacing="0.800" fill="#4c4c4c" stroke="#4c4c4c" stroke-width="0.25" stroke-linejoin="round">3.51</text>
<text x="90.56" y="463.70" font-size="11" letter-spacing="0.800" fill="#4c4c4c" stroke="#4c4c4c" stroke-width="0.25" stroke-linejoin="round">8x4</text>
<text x="149.24" y="463.70" font-size="11" letter-spacing="0.800" fill="#4c4c4c" stroke="#4c4c4c" stroke-width="0.25" stroke-linejoin="round">8.37</text>
<text x="201.50" y="463.70" font-size="11" letter-spacing="0.800" fill="#4c4c4c" stroke="#4c4c4c" stroke-width="0.25" stroke-linejoin="round">8.53</text>
<text x="249.94" y="463.70" font-size="11" letter-spacing="0.800" fill="#4c4c4c" stroke="#4c4c4c" stroke-width="0.25" stroke-linejoin="round">166x0.248</text>
<text x="342.62" y="463.70" font-size="11" letter-spacing="0.800" fill="#4c4c4c" stroke="#4c4c4c" stroke-width="0.25" stroke-linejoin="round">1.52</text>
<text x="395.22" y="463.70" font-size="11" letter-spacing="0.800" fill="#4c4c4c" stroke="#4c4c4c" stroke-width="0.25" stroke-linejoin="round">1.37</text>
<text x="448.48" y="463.70" font-size="11" letter-spacing="0.800" fill="#4c4c4c" stroke="#4c4c4c" stroke-width="0.25" stroke-linejoin="round">3.18</text>
<text x="500.93" y="463.70" font-size="11" letter-spacing="0.800" fill="#4c4c4c" stroke="#4c4c4c" stroke-width="0.25" stroke-linejoin="round">2.54</text>
<text x="544.05" y="463.70" font-size="11" letter-spacing="0.800" fill="#4c4c4c" stroke="#4c4c4c" stroke-width="0.25" stroke-linejoin="round">23.5</text>
<text x="586.24" y="463.70" font-size="11" letter-spacing="0.800" fill="#4c4c4c" stroke="#4c4c4c" stroke-width="0.25" stroke-linejoin="round">26.67</text>
<text x="664.11" y="463.70" font-size="11" letter-spacing="0.800" fill="#4c4c4c" stroke="#4c4c4c" stroke-width="0.25" stroke-linejoin="round">2.23</text>
<text x="90.52" y="483.73" font-size="11" letter-spacing="0.800" fill="#4c4c4c" stroke="#4c4c4c" stroke-width="0.25" stroke-linejoin="round">6x4</text>
<text x="145.53" y="483.73" font-size="11" letter-spacing="0.800" fill="#4c4c4c" stroke="#4c4c4c" stroke-width="0.25" stroke-linejoin="round">13.30</text>
<text x="197.90" y="483.73" font-size="11" letter-spacing="0.800" fill="#4c4c4c" stroke="#4c4c4c" stroke-width="0.25" stroke-linejoin="round">13.57</text>
<text x="250.07" y="483.73" font-size="11" letter-spacing="0.800" fill="#4c4c4c" stroke="#4c4c4c" stroke-width="0.25" stroke-linejoin="round">266x0.248</text>
<text x="342.62" y="483.73" font-size="11" letter-spacing="0.800" fill="#4c4c4c" stroke="#4c4c4c" stroke-width="0.25" stroke-linejoin="round">1.52</text>
<text x="395.22" y="483.73" font-size="11" letter-spacing="0.800" fill="#4c4c4c" stroke="#4c4c4c" stroke-width="0.25" stroke-linejoin="round">1.37</text>
<text x="448.48" y="483.73" font-size="11" letter-spacing="0.800" fill="#4c4c4c" stroke="#4c4c4c" stroke-width="0.25" stroke-linejoin="round">3.56</text>
<text x="500.93" y="483.73" font-size="11" letter-spacing="0.800" fill="#4c4c4c" stroke="#4c4c4c" stroke-width="0.25" stroke-linejoin="round">2.84</text>
<text x="540.64" y="483.73" font-size="11" letter-spacing="0.800" fill="#4c4c4c" stroke="#4c4c4c" stroke-width="0.25" stroke-linejoin="round">26.67</text>
<text x="586.26" y="483.73" font-size="11" letter-spacing="0.800" fill="#4c4c4c" stroke="#4c4c4c" stroke-width="0.25" stroke-linejoin="round">30.48</text>
<text x="663.95" y="483.73" font-size="11" letter-spacing="0.800" fill="#4c4c4c" stroke="#4c4c4c" stroke-width="0.25" stroke-linejoin="round">1.40</text>
<text x="145.53" y="503.76" font-size="11" letter-spacing="0.800" fill="#4c4c4c" stroke="#4c4c4c" stroke-width="0.25" stroke-linejoin="round">13.30</text>
<text x="197.90" y="503.76" font-size="11" letter-spacing="0.800" fill="#4c4c4c" stroke="#4c4c4c" stroke-width="0.25" stroke-linejoin="round">13.57</text>
<text x="250.07" y="503.76" font-size="11" letter-spacing="0.800" fill="#4c4c4c" stroke="#4c4c4c" stroke-width="0.25" stroke-linejoin="round">266x0.248</text>
<text x="342.62" y="503.76" font-size="11" letter-spacing="0.800" fill="#4c4c4c" stroke="#4c4c4c" stroke-width="0.25" stroke-linejoin="round">1.52</text>
<text x="395.22" y="503.76" font-size="11" letter-spacing="0.800" fill="#4c4c4c" stroke="#4c4c4c" stroke-width="0.25" stroke-linejoin="round">1.37</text>
<text x="663.95" y="503.76" font-size="11" letter-spacing="0.800" fill="#4c4c4c" stroke="#4c4c4c" stroke-width="0.25" stroke-linejoin="round">1.40</text>
<text x="145.78" y="523.79" font-size="11" letter-spacing="0.800" fill="#4c4c4c" stroke="#4c4c4c" stroke-width="0.25" stroke-linejoin="round">8.367</text>
<text x="201.50" y="523.79" font-size="11" letter-spacing="0.800" fill="#4c4c4c" stroke="#4c4c4c" stroke-width="0.25" stroke-linejoin="round">8.53</text>
<text x="249.94" y="523.79" font-size="11" letter-spacing="0.800" fill="#4c4c4c" stroke="#4c4c4c" stroke-width="0.25" stroke-linejoin="round">166x0.248</text>
<text x="342.62" y="523.79" font-size="11" letter-spacing="0.800" fill="#4c4c4c" stroke="#4c4c4c" stroke-width="0.25" stroke-linejoin="round">1.52</text>
<text x="395.22" y="523.79" font-size="11" letter-spacing="0.800" fill="#4c4c4c" stroke="#4c4c4c" stroke-width="0.25" stroke-linejoin="round">1.37</text>
<text x="664.11" y="523.79" font-size="11" letter-spacing="0.800" fill="#4c4c4c" stroke="#4c4c4c" stroke-width="0.25" stroke-linejoin="round">2.23</text>
<text x="90.78" y="506.00" font-size="11" letter-spacing="1.179" fill="#4c4c4c" stroke="#4c4c4c" stroke-width="0.25" stroke-linejoin="round">6x3</text>
<text x="87.38" y="518.90" font-size="11" letter-spacing="0.626" fill="#4c4c4c" stroke="#4c4c4c" stroke-width="0.25" stroke-linejoin="round">+8x1</text>
<text x="448.48" y="514.10" font-size="11" letter-spacing="0.800" fill="#4c4c4c" stroke="#4c4c4c" stroke-width="0.25" stroke-linejoin="round">3.56</text>
<text x="500.93" y="514.10" font-size="11" letter-spacing="0.800" fill="#4c4c4c" stroke="#4c4c4c" stroke-width="0.25" stroke-linejoin="round">2.84</text>
<text x="540.64" y="514.10" font-size="11" letter-spacing="0.800" fill="#4c4c4c" stroke="#4c4c4c" stroke-width="0.25" stroke-linejoin="round">25.02</text>
<text x="586.20" y="514.10" font-size="11" letter-spacing="0.800" fill="#4c4c4c" stroke="#4c4c4c" stroke-width="0.25" stroke-linejoin="round">28.83</text>
</svg></body></html>
